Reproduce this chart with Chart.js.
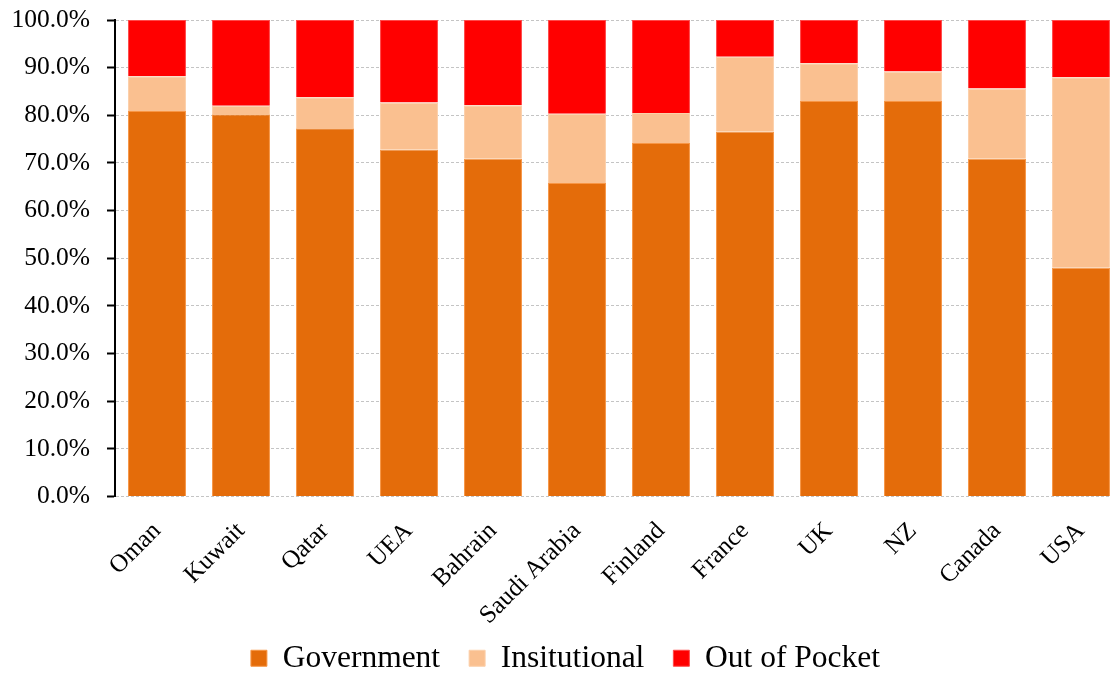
<!DOCTYPE html>
<html>
<head>
<meta charset="utf-8">
<script src="https://cdn.jsdelivr.net/npm/chart.js@4/dist/chart.umd.min.js"></script>
<style>
  html, body { margin: 0; padding: 0; background: #ffffff; overflow: hidden; }
  #wrap { position: absolute; left: 0; top: 0; width: 1124px; height: 684px; }
</style>
</head>
<body>
<div id="wrap"><canvas id="chart" width="1124" height="684"></canvas></div>
<script>
// Health expenditure split by source, share of total (%)
const countries = ['Oman', 'Kuwait', 'Qatar', 'UEA', 'Bahrain', 'Saudi Arabia', 'Finland', 'France', 'UK', 'NZ', 'Canada', 'USA'];
const government = [80.9, 80.2, 77.3, 72.8, 70.9, 65.8, 74.2, 76.6, 83.0, 83.0, 70.9, 48.0];
const institutional = [7.3, 1.8, 6.5, 9.9, 11.2, 14.5, 6.3, 15.7, 7.9, 6.2, 14.7, 40.0];
const outOfPocket = [11.8, 18.0, 16.2, 17.3, 17.9, 19.7, 19.5, 7.7, 9.1, 10.8, 14.4, 12.0];
const yTicks = [0, 10, 20, 30, 40, 50, 60, 70, 80, 90, 100];

const serif = 'Liberation Serif, Times New Roman, serif';

// Let the rotated category names run past the bottom of the x scale box
const unclippedLabels = {
  id: 'unclippedLabels',
  beforeDraw(chart) {
    chart.scales.x._computeLabelArea = () => undefined;
  }
};

new Chart(document.getElementById('chart'), {
  type: 'bar',
  data: {
    labels: countries,
    datasets: [
      { label: 'Government', data: government, backgroundColor: '#E46C0A', borderColor: '#F79646', borderWidth: 1 },
      { label: 'Insitutional', data: institutional, backgroundColor: '#FAC090', borderColor: '#FCD0AA', borderWidth: 1 },
      { label: 'Out of Pocket', data: outOfPocket, backgroundColor: '#FF0000', borderColor: '#FF4A4A', borderWidth: 1 }
    ]
  },
  options: {
    responsive: false,
    devicePixelRatio: 1,
    animation: false,
    layout: { padding: { top: 20, right: 1, bottom: 0, left: 8 } },
    datasets: { bar: { categoryPercentage: 1.0, barPercentage: 0.69 } },
    plugins: {
      tooltip: { enabled: false },
      legend: {
        position: 'bottom',
        labels: {
          color: '#000000',
          font: { family: serif, size: 31.5 },
          boxWidth: 16,
          boxHeight: 16,
          padding: 29
        }
      }
    },
    scales: {
      x: {
        stacked: true,
        grid: { display: false, drawTicks: false },
        border: { display: false },
        ticks: {
          color: '#000000',
          font: { family: serif, size: 25 },
          minRotation: 45,
          maxRotation: 45,
          padding: 20,
          autoSkip: false
        },
        afterFit: (scale) => { scale.height = 117; }
      },
      y: {
        stacked: true,
        min: 0,
        max: 100,
        afterBuildTicks: (scale) => { scale.ticks = yTicks.map(v => ({ value: v })); },
        grid: {
          color: '#C4C4C4',
          lineWidth: 1,
          tickColor: '#000000',
          tickWidth: 2,
          tickLength: 8,
          tickBorderDash: []
        },
        border: { display: true, color: '#000000', width: 2, dash: [3, 2] },
        ticks: {
          color: '#000000',
          font: { family: serif, size: 25.5 },
          padding: 17,
          callback: (v) => v.toFixed(1) + '%'
        },
        afterFit: (scale) => {
          scale.width = 107;
          scale.paddingTop = 12;
          scale.paddingBottom = 12;
        }
      }
    }
  },
  plugins: [unclippedLabels]
});
</script>
</body>
</html>
